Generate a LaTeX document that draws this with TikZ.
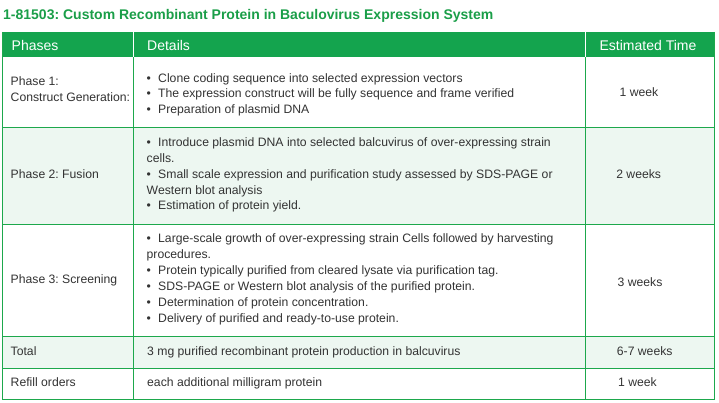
\documentclass[tikz,border=0pt]{standalone}
\usepackage{fontspec}
\setmainfont{Liberation Sans}
\frenchspacing
\definecolor{hdrgreen}{HTML}{14A44E}
\definecolor{linegreen}{HTML}{1DA84C}
\definecolor{titlegreen}{HTML}{1A9E48}
\definecolor{lightrow}{HTML}{EDF7F1}
\definecolor{txt}{HTML}{333333}
\tikzset{
  body/.style={anchor=base west, inner sep=0pt, text=txt, font=\fontsize{12.2}{16}\selectfont},
  timec/.style={anchor=base, inner sep=0pt, text=txt, font=\fontsize{12.2}{16}\selectfont},
  hdrtext/.style={anchor=base west, inner sep=0pt, text=white, font=\fontsize{14}{16}\selectfont},
  titletext/.style={anchor=base west, inner sep=0pt, text=titlegreen, font=\fontsize{14}{16}\selectfont\bfseries},
  grid/.style={draw=linegreen, line width=1pt},
}
\newcommand{\bulletline}[3]{%
  \node[body] (#1b) at (146.5,#2) {\textbullet};
  \node[body] (#1) at (158,#2) {#3};
}
\begin{document}
\begin{tikzpicture}[x=1pt,y=-1pt]
\useasboundingbox (0,0) rectangle (719,403);
% title
\node[titletext] (title) at (3,20) {1-81503: Custom Recombinant Protein in Baculovirus Expression System};
% backgrounds
\fill[hdrgreen] (2.7,32) rectangle (714.3,57.5);
\fill[white] (2.7,57.5) rectangle (714.3,128);
\fill[lightrow] (2.7,128) rectangle (714.3,224);
\fill[white] (2.7,224) rectangle (714.3,336);
\fill[lightrow] (2.7,336) rectangle (714.3,368);
\fill[white] (2.7,368) rectangle (714.3,399.3);
% header separators
\draw[white, line width=1pt] (133,32) -- (133,57.5);
\draw[white, line width=1pt] (585.3,32) -- (585.3,57.5);
% grid
\draw[grid] (2.7,57.5) -- (2.7,399.3) -- (714.3,399.3) -- (714.3,57.5);
\draw[grid] (2.7,32) -- (2.7,57.5);
\draw[grid] (714.3,32) -- (714.3,57.5);
\foreach \yy in {128,224,336,368} \draw[grid] (2.7,\yy) -- (714.3,\yy);
\draw[grid] (133,57.5) -- (133,399.3);
\draw[grid] (585.3,57.5) -- (585.3,399.3);
% header text
\node[hdrtext] (hphases) at (11.5,51) {Phases};
\node[hdrtext] (hdetails) at (147,51) {Details};
\node[hdrtext, anchor=base] (htime) at (648,51) {Estimated Time};
% row 1
\node[body] (p1a) at (10.5,85.5) {Phase 1:};
\node[body] (p1b) at (10.5,101.5) {Construct Generation:};
\bulletline{d1a}{82.5}{Clone coding sequence into selected expression vectors}
\bulletline{d1b}{98}{The expression construct will be fully sequence and frame verified}
\bulletline{d1c}{113.5}{Preparation of plasmid DNA}
\node[timec] (t1) at (639,96.5) {1 week};
% row 2
\node[body] (p2) at (10.5,178.5) {Phase 2: Fusion};
\bulletline{d2a}{146.5}{Introduce plasmid DNA into selected balcuvirus of over-expressing strain}
\node[body] (d2a2) at (146.5,162.5) {cells.};
\bulletline{d2b}{178.5}{Small scale expression and purification study assessed by SDS-PAGE or}
\node[body] (d2b2) at (146.5,194.5) {Western blot analysis};
\bulletline{d2c}{209.5}{Estimation of protein yield.}
\node[timec] (t2) at (638.7,178.5) {2 weeks};
% row 3
\node[body] (p3) at (10.5,283.8) {Phase 3: Screening};
\bulletline{d3a}{242.5}{Large-scale growth of over-expressing strain Cells followed by harvesting}
\node[body] (d3a2) at (146.5,258) {procedures.};
\bulletline{d3b}{274.5}{Protein typically purified from cleared lysate via purification tag.}
\bulletline{d3c}{290}{SDS-PAGE or Western blot analysis of the purified protein.}
\bulletline{d3d}{306}{Determination of protein concentration.}
\bulletline{d3e}{322.5}{Delivery of purified and ready-to-use protein.}
\node[timec] (t3) at (640,286.2) {3 weeks};
% total
\node[body] (tot) at (10.5,355.5) {Total};
\node[body] (totd) at (147,355.5) {3 mg purified recombinant protein production in balcuvirus};
\node[timec] (tott) at (644.7,355.5) {6-7 weeks};
% refill
\node[body] (ref) at (10.5,386.8) {Refill orders};
\node[body] (refd) at (147,386.8) {each additional milligram protein};
\node[timec] (reft) at (637.5,386.8) {1 week};
\end{tikzpicture}
\end{document}
